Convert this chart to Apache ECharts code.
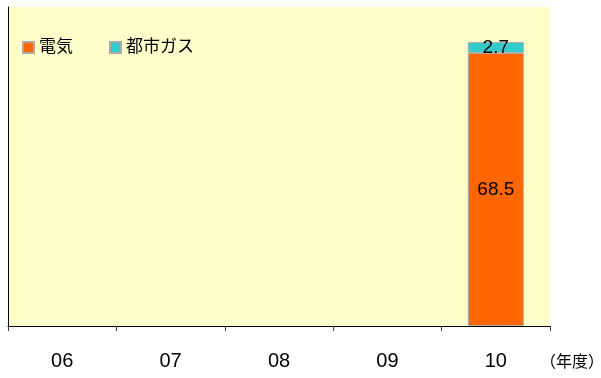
<!DOCTYPE html>
<html>
<head>
<meta charset="utf-8">
<script src="https://cdn.jsdelivr.net/npm/echarts@6/dist/echarts.min.js"></script>
<style>
  html, body { margin: 0; padding: 0; background: #fff; }
  #main { width: 601px; height: 378px; }
</style>
</head>
<body>
<div id="main"></div>
<script>
// 年度
const years = ['06', '07', '08', '09', '10'];
// 電気
const denki = [null, null, null, null, 68.5];
// 都市ガス
const gas = [null, null, null, null, 2.7];

const font = '"Liberation Sans", Arial, "Noto Sans CJK JP", sans-serif';
const chart = echarts.init(document.getElementById('main'));

chart.setOption({
  animation: false,
  textStyle: { fontFamily: font },
  grid: {
    left: 8, right: 51, top: 7, bottom: 52,
    show: true, backgroundColor: '#FFFFCC', borderWidth: 0
  },
  legend: {
    left: 17, top: 34,
    itemWidth: 11, itemHeight: 11, itemGap: 36,
    icon: 'rect',
    textStyle: { fontSize: 17, color: '#000', fontFamily: font },
    data: ['電気', '都市ガス']
  },
  graphic: [{
    type: 'text', left: 540, top: 353,
    style: { text: '（年度）', fill: '#000', font: '16px "Noto Sans CJK JP", sans-serif' }
  }],
  xAxis: {
    type: 'category',
    data: years,
    axisLine: { lineStyle: { color: '#000', width: 1 } },
    axisTick: { show: true, length: 5, lineStyle: { color: '#444' } },
    axisLabel: { fontSize: 20, color: '#000', margin: 25 }
  },
  yAxis: {
    type: 'value',
    min: 0, max: 80,
    axisLine: { show: true, lineStyle: { color: '#000', width: 1 } },
    axisTick: { show: false },
    axisLabel: { show: false },
    splitLine: { show: false }
  },
  series: [{
    name: '電気',
    type: 'bar',
    stack: 'total',
    data: denki,
    barWidth: 56,
    itemStyle: { color: '#FF6600', borderColor: '#AAAAAA', borderWidth: 1 },
    label: { show: true, position: 'inside', fontSize: 19, color: '#000' }
  }, {
    name: '都市ガス',
    type: 'bar',
    stack: 'total',
    data: gas,
    barWidth: 56,
    itemStyle: { color: '#33CCCC', borderColor: '#AAAAAA', borderWidth: 1 },
    label: { show: true, position: 'inside', fontSize: 19, color: '#000' }
  }]
});
</script>
</body>
</html>
